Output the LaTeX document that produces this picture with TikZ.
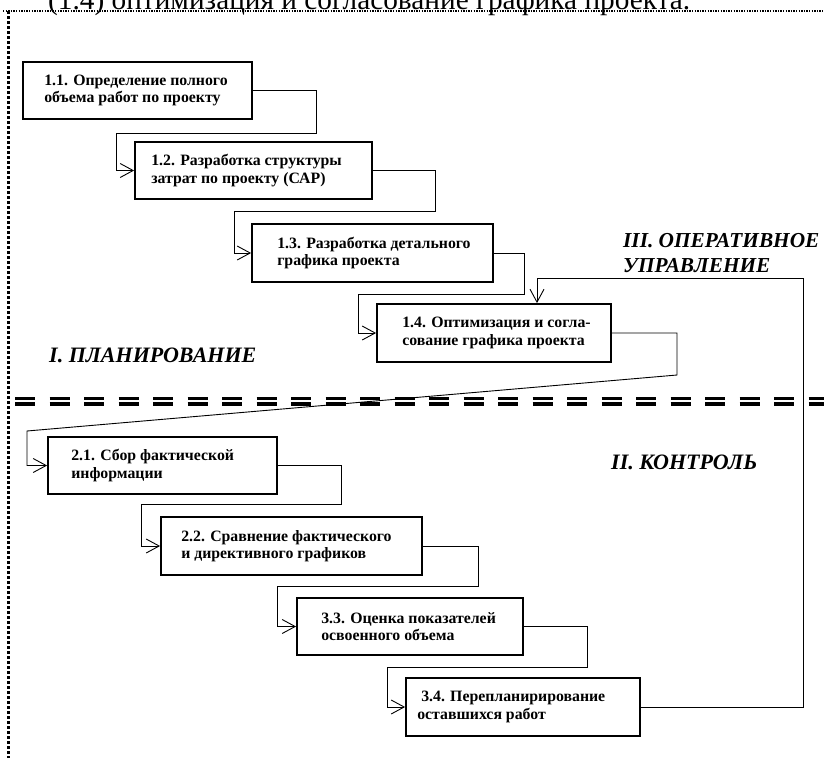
\documentclass[tikz,border=0pt]{standalone}
\usepackage{fontspec}
\setmainfont{Liberation Serif}
\usetikzlibrary{arrows.meta}
\begin{document}
\begin{tikzpicture}[x=1pt,y=-1pt,
  stagebox/.style={draw, line width=1.8pt, rectangle, inner sep=0pt},
  stagetext/.style={anchor=west, align=left, inner sep=0pt, font=\bfseries\fontsize{15.8}{17.5}\selectfont},
  conn/.style={line width=0.9pt, -{Straight Barb[length=13pt,width=14pt,line width=0.9pt]}},
  phase/.style={inner sep=0pt, align=left, font=\bfseries\itshape\fontsize{22}{25}\selectfont}]
\useasboundingbox (0,0) rectangle (824,758);
\clip (0,0) rectangle (824,758);
% top clipped caption
\node[anchor=base west, inner sep=0pt] (cap) at (48,9) {\resizebox{642pt}{!}{\fontsize{20}{24}\selectfont (1.4) оптимизация и согласование графика проекта.}};
% dotted frame
\draw[line width=1.3pt, dash pattern=on 1.3pt off 1.3pt] (3,11) -- (824,11);
\draw[line width=2.8pt, dash pattern=on 3pt off 2pt] (8.5,11) -- (8.5,758);
% double dashed separator
\draw[line width=3.4pt, dash pattern=on 20pt off 14.5pt] (15,398.7) -- (824,398.7);
\draw[line width=3.4pt, dash pattern=on 20pt off 14.5pt] (15,404) -- (824,404);
% boxes
\node[stagebox, minimum width=229pt, minimum height=57pt] (b11) at (137.5,90.5) {};
\node[stagebox, minimum width=237pt, minimum height=57pt] (b12) at (253.5,170.5) {};
\node[stagebox, minimum width=241pt, minimum height=58pt] (b13) at (372.5,253) {};
\node[stagebox, minimum width=234pt, minimum height=58pt] (b14) at (494,333) {};
\node[stagebox, minimum width=229pt, minimum height=57pt] (b21) at (162.5,465.5) {};
\node[stagebox, minimum width=261pt, minimum height=58pt] (b22) at (291.5,546) {};
\node[stagebox, minimum width=226pt, minimum height=57pt] (b33) at (410,626.5) {};
\node[stagebox, minimum width=234pt, minimum height=58pt] (b34) at (523,707) {};
% texts
\node[stagetext] (t11) at ([xshift=22pt]b11.west) {1.1. Определение полного\\объема работ по проекту};
\node[stagetext] (t12) at ([xshift=17pt]b12.west) {1.2. Разработка структуры\\затрат по проекту (САР)};
\node[stagetext] (t13) at ([xshift=26pt]b13.west) {1.3. Разработка детального\\графика проекта};
\node[stagetext] (t14) at ([xshift=26pt]b14.west) {1.4. Оптимизация и согла-\\сование графика проекта};
\node[stagetext] (t21) at ([xshift=24pt]b21.west) {2.1. Сбор фактической\\информации};
\node[stagetext] (t22) at ([xshift=21pt]b22.west) {2.2. Сравнение фактического\\и директивного графиков};
\node[stagetext] (t33) at ([xshift=25pt]b33.west) {3.3. Оценка показателей\\освоенного объема};
\node[stagetext] (t34) at ([xshift=12pt]b34.west) {\ 3.4. Перепланирирование\\оставшихся работ};
% phase labels
\node[phase, anchor=west] (p1) at (49,355) {I. ПЛАНИРОВАНИЕ};
\node[phase, anchor=west] (p2) at (611,462) {II. КОНТРОЛЬ};
\node[phase, anchor=north west, font=\bfseries\itshape\fontsize{21.3}{25}\selectfont] (p3) at (623,233) {III. ОПЕРАТИВНОЕ\\УПРАВЛЕНИЕ};
% connectors
\draw[conn] (b11.east) -| (316,133) -| (116,170.5) -- (b12.west);
\draw[conn] (b12.east) -| (435,211) -| (234,253) -- (b13.west);
\draw[conn] (b13.east) -| (524,294) -| (358,333) -- (b14.west);
\draw[conn] (b14.east) -| (677,375) -- (27,431) |- (b21.west);
\draw[conn] (b21.east) -| (341,504) -| (141,546) -- (b22.west);
\draw[conn] (b22.east) -| (478,586) -| (277,626.5) -- (b33.west);
\draw[conn] (b33.east) -| (587,667) -| (387,707) -- (b34.west);
\draw[conn] (b34.east) -| (803,278) -| (537,0 |- b14.north);
\end{tikzpicture}
\end{document}
